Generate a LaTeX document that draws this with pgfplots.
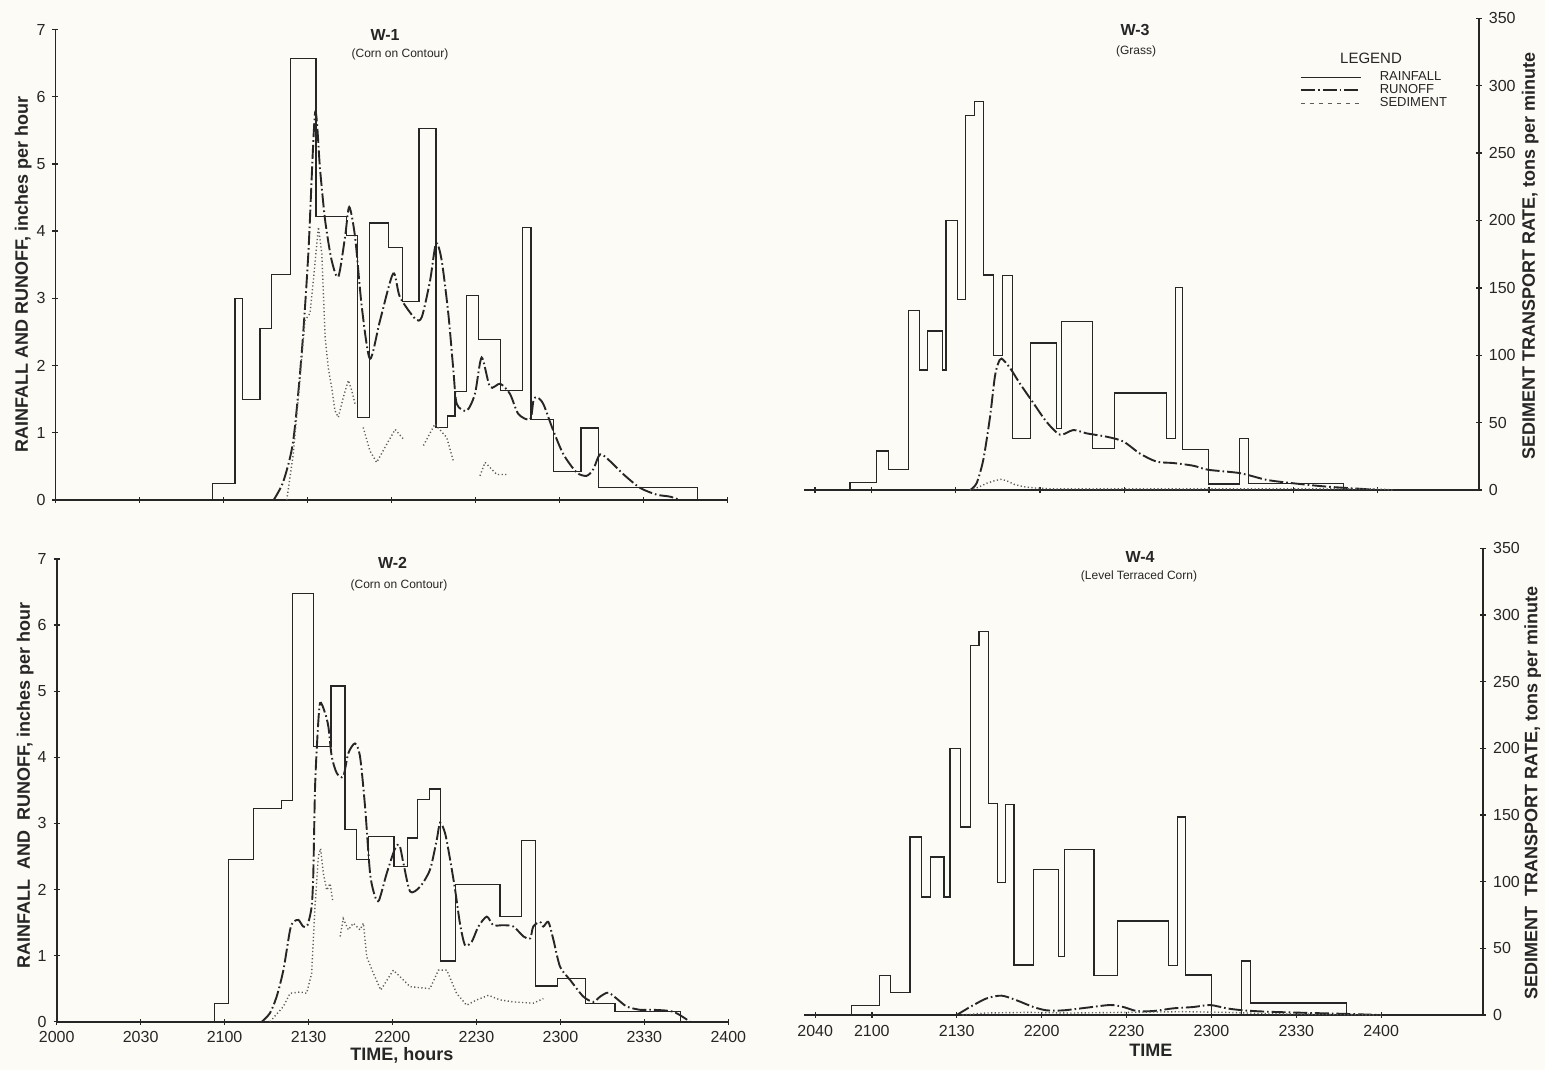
\documentclass[border=0pt]{standalone}
\usepackage{pgfplots}
\pgfplotsset{compat=1.18}
\usepackage{fontspec}
\setmainfont{Liberation Sans}
\setsansfont{Liberation Sans}

\definecolor{ink}{HTML}{262626}
\definecolor{paper}{HTML}{FCFBF6}

\newcommand{\labfont}{\bfseries\fontsize{9}{10}\selectfont}

\tikzset{
  rainline/.style={ink, line width=0.6pt},
  runline/.style={ink, line width=0.95pt, dash pattern=on 7pt off 1.5pt on 0.8pt off 1.5pt},
  sedline/.style={ink!75, line width=0.7pt, dash pattern=on 0.6pt off 1.2pt},
}

\pgfplotsset{
  panel/.style={
    scale only axis,
    xmin=0, xmax=240, ymin=0, ymax=7,
    tick style={ink, line width=0.7pt},
    tick align=inside,
    major tick length=3pt,
    tick label style={font=\fontsize{8}{9}\selectfont, text=ink},
    /pgf/number format/assume math mode=true,
    ytick={0,...,7},
  },
  noarrows/.style={
    axis line style={-, ink, line width=0.9pt},
    every outer x axis line/.append style={-},
    every outer y axis line/.append style={-},
    every inner x axis line/.append style={-},
    every inner y axis line/.append style={-},
  },
  leftpanel/.style={panel, axis x line=bottom, axis y line=left, noarrows,
    xtick={0,30,...,240}, yticklabels={0,1,2,3,4,5,6,7}},
  rightpanel/.style={panel, axis x line=bottom, axis y line=right, noarrows,
    xmin=36, xmax=276, xtick={40,60,90,120,150,180,210,240},
    yticklabels={0,50,100,150,200,250,300,350}},
}

\begin{document}
\begin{tikzpicture}
\fill[paper] (0pt,0pt) rectangle (772.5pt,-535pt);
\path[use as bounding box] (0pt,0pt) rectangle (772.5pt,-535pt);

% ---------------- W-1 (top left) ----------------
\begin{axis}[leftpanel, at={(27.75pt,-250pt)}, anchor=south west,
  width=336pt, height=235.25pt, xticklabels={},
  ylabel={RAINFALL AND RUNOFF, inches per hour},
  every axis y label/.style={at={(axis description cs:-0.048,0.48)}, rotate=90, anchor=center, font=\labfont, text=ink}]
\addplot[rainline, const plot, forget plot] coordinates {
(56.1,0) (56.1,0.25) (64.1,3.0) (66.9,1.5) (73.0,2.55) (77.2,3.35) (83.8,6.57) (93.0,4.22)
(104.0,3.93) (107.8,1.23) (112.1,4.12) (118.9,3.76) (123.9,2.95) (129.8,5.53) (135.9,1.08)
(139.9,1.25) (142.7,1.62) (146.9,3.04) (151.0,2.39) (158.8,1.63) (166.7,4.05) (169.8,1.2)
(177.8,0.43) (187.7,1.07) (193.9,0.19) (229.2,0) };
\addplot[runline, smooth, tension=0.45, forget plot] coordinates {
(77.9,0) (81.4,0.28) (84.9,0.88) (87.9,2.17) (90.3,3.67) (92.7,5.76) (94.5,4.91) (96.3,4.16)
(98.6,3.57) (101.0,3.32) (103.4,3.91) (104.9,4.36) (107.0,3.91) (109.4,2.87) (112.3,2.10)
(115.9,2.67) (120.6,3.37) (123.0,3.02) (128.4,2.70) (130.8,2.72) (133.8,3.27) (135.9,3.82)
(137.9,3.57) (140.3,2.77) (142.1,1.93) (143.3,1.43) (146.9,1.33) (149.8,1.58) (152.2,2.12)
(155.2,1.68) (158.8,1.73) (162.3,1.58) (165.3,1.28) (169.5,1.20) (170.7,1.48) (171.9,1.53)
(174.2,1.43) (177.8,1.03) (181.4,0.68) (186.1,0.41) (189.7,0.36) (192.1,0.46) (194.5,0.68)
(198.0,0.58) (202.9,0.38) (208.8,0.18) (214.7,0.08) (219.5,0.05) (223.0,0) };
\addplot[sedline, y filter/.expression={y/50}, forget plot] coordinates {
(82.6,0) (84.9,34) (87.3,89) (89.1,133.5) (90.9,139) (92.1,163.5) (93.9,203) (95.1,183.5)
(96.3,121) (97.4,98.5) (98.6,84) (99.8,66.5) (101.0,61.5) (102.8,76.5) (104.6,89) (105.8,81.5) (107.0,71.5) };
\addplot[sedline, y filter/.expression={y/50}, forget plot] coordinates {
(109.9,54) (112.3,36.5) (114.7,28) (118.3,41.5) (121.3,52.5) (124.2,45.5) };
\addplot[sedline, y filter/.expression={y/50}, forget plot] coordinates {
(131.4,40.5) (135.5,56.5) (139.7,46.5) (142.1,29) };
\addplot[sedline, y filter/.expression={y/50}, forget plot] coordinates {
(151.6,18) (153.4,28) (157.6,19) (161.7,19) };
\end{axis}

% ---------------- W-2 (bottom left) ----------------
\begin{axis}[leftpanel, at={(28.35pt,-510.85pt)}, anchor=south west,
  width=335.8pt, height=231.35pt,
  xticklabels={2000,2030,2100,2130,2200,2230,2300,2330,2400},
  ylabel={RAINFALL\ \ AND\ \ RUNOFF, inches per hour},
  every axis y label/.style={at={(axis description cs:-0.047,0.51)}, rotate=90, anchor=center, font=\labfont, text=ink},
  xlabel={TIME, hours},
  every axis x label/.style={at={(axis description cs:0.514,-0.072)}, anchor=center, font=\labfont, text=ink}]
\addplot[rainline, const plot, forget plot] coordinates {
(56.3,0) (56.3,0.28) (61.5,2.45) (70.3,3.22) (80.2,3.35) (84.3,6.48) (91.7,4.16) (98.0,5.08)
(103.0,2.91) (107.0,2.46) (111.4,2.80) (120.5,2.35) (125.3,2.78) (129.0,3.36) (133.2,3.52)
(137.2,0.92) (142.5,2.08) (158.4,1.59) (166.2,2.74) (171.2,0.54) (178.9,0.65) (189.1,0.28)
(199.5,0.15) (222.8,0) };
\addplot[runline, smooth, tension=0.45, forget plot] coordinates {
(73.3,0) (76.2,0.13) (78.6,0.38) (81.0,0.78) (83.4,1.39) (84.6,1.51) (86.4,1.54) (88.1,1.44)
(89.6,1.46) (91.1,1.74) (91.7,2.24) (92.3,3.51) (93.1,4.26) (94.1,4.82) (95.9,4.67) (97.1,4.46)
(98.3,4.01) (100.1,3.76) (102.4,3.71) (104.2,4.06) (106.6,4.21) (108.4,4.01) (110.2,3.25)
(112.0,2.24) (113.8,1.89) (115.2,1.84) (117.9,2.24) (120.9,2.62) (122.5,2.67) (123.9,2.40)
(126.3,1.97) (129.8,2.04) (133.4,2.30) (135.8,2.75) (137.0,3.01) (138.8,2.85) (140.6,2.45)
(142.4,1.99) (144.1,1.49) (145.9,1.16) (148.3,1.21) (150.7,1.44) (153.7,1.59) (156.0,1.46)
(159.6,1.46) (163.2,1.44) (166.8,1.29) (169.2,1.26) (170.3,1.44) (172.7,1.51) (173.9,1.44)
(175.7,1.51) (177.5,1.24) (179.9,0.83) (183.5,0.63) (188.2,0.38) (191.8,0.30) (194.2,0.38)
(197.1,0.44) (200.1,0.35) (203.7,0.23) (208.5,0.18) (213.2,0.18) (220.4,0.15) (226.3,0) };
\addplot[sedline, y filter/.expression={y/50}, forget plot] coordinates {
(76.2,0) (81.0,11.5) (83.4,21.5) (87.0,22.5) (89.3,21.5) (91.1,36.5) (92.3,87) (93.5,125)
(94.3,131) (95.3,112) (96.5,99.5) (97.7,104.5) (98.6,92) };
\addplot[sedline, y filter/.expression={y/50}, forget plot] coordinates {
(101.3,64.5) (102.4,78) (104.2,69.5) (106.0,74.5) (108.4,69.5) (109.6,74.5) (110.8,49)
(113.2,36.5) (115.8,24) (120.3,39) (126.3,26.5) (133.4,25) (136.4,39) (139.4,39) (142.9,21.5)
(146.5,12.5) (150.1,16.5) (154.3,20) (158.4,16.5) (163.2,15) (170.3,14) (173.9,17.5) };
\end{axis}

% ---------------- W-3 (top right) ----------------
\begin{axis}[rightpanel, at={(401.95pt,-245pt)}, anchor=south west,
  width=337.45pt, height=235.9pt, xticklabels={},
  ylabel={SEDIMENT TRANSPORT RATE, tons per minute},
  every axis y label/.style={at={(axis description cs:1.076,0.496)}, rotate=90, anchor=center, font=\labfont, text=ink},
  legend style={at={(axis description cs:0.7255,0.898)}, anchor=north west, draw=none, fill=none,
    font=\fontsize{6.5}{7}\selectfont, text=ink, row sep=0pt, column sep=0pt,
    nodes={inner sep=0pt, text height=5pt, text depth=1.5pt}, cells={anchor=west}},
  legend image code/.code={\draw[#1] (0pt,0pt) -- (30pt,0pt); \path (39pt,0pt);}]
\addplot[rainline, const plot, forget plot] coordinates {
(52.4,0) (52.4,0.11) (61.9,0.58) (66.0,0.31) (73.1,2.66) (77.0,1.78) (79.9,2.36) (85.2,1.78)
(86.5,4.0) (90.5,2.83) (93.5,5.56) (96.8,5.76) (100.0,3.19) (103.3,2.0) (106.7,3.18) (110.1,0.77)
(116.6,2.18) (125.9,0.91) (127.7,2.50) (138.7,0.62) (146.4,1.44) (165.0,0.77) (168.2,3.0)
(170.7,0.6) (179.8,0.09) (190.8,0.76) (194.0,0.1) (227.8,0) };
\addplot[runline, smooth, tension=0.45, forget plot] coordinates {
(95.1,0) (97.4,0.1) (99.8,0.45) (102.2,1.09) (103.9,1.68) (105.1,1.88) (106.3,1.95) (109.3,1.81)
(112.8,1.58) (117.6,1.29) (122.3,1.01) (127.1,0.82) (131.8,0.89) (136.6,0.84) (143.7,0.79)
(149.6,0.72) (155.5,0.54) (161.5,0.42) (167.4,0.40) (174.5,0.36) (179.8,0.30) (191.1,0.25)
(200.6,0.15) (210.0,0.1) (221.9,0.05) (234.9,0.015) (239.7,0) };
\addplot[sedline, y filter/.expression={y/50}, forget plot] coordinates {
(95,0) (98,2) (101,5) (104,7) (106.3,8) (108.5,6.5) (111,4) (114,2.5) (118,1.5) (125,0.8)
(240,0.8) (246,0) };
\addlegendimage{rainline}\addlegendentry{RAINFALL}
\addlegendimage{runline}\addlegendentry{RUNOFF}
\addlegendimage{sedline, dash pattern=on 2pt off 2.5pt}\addlegendentry{SEDIMENT}
\end{axis}

% ---------------- W-4 (bottom right) ----------------
\begin{axis}[rightpanel, at={(401.95pt,-507.5pt)}, anchor=south west,
  width=339.6pt, height=233.35pt,
  xticklabels={2040,2100,2130,2200,2230,2300,2330,2400},
  ylabel={SEDIMENT\ \ TRANSPORT RATE, tons per minute},
  every axis y label/.style={at={(axis description cs:1.073,0.476)}, rotate=90, anchor=center, font=\labfont, text=ink},
  xlabel={TIME},
  every axis x label/.style={at={(axis description cs:0.511,-0.075)}, anchor=center, font=\labfont, text=ink}]
\addplot[rainline, const plot, forget plot] coordinates {
(52.9,0) (52.9,0.14) (62.7,0.59) (66.7,0.34) (73.5,2.67) (77.6,1.77) (80.6,2.37) (85.5,1.77)
(87.6,4.0) (91.2,2.82) (94.9,5.54) (97.9,5.75) (101.2,3.17) (104.3,1.99) (107.3,3.16) (110.2,0.75)
(117.1,2.18) (125.9,0.88) (128.0,2.48) (138.5,0.59) (146.9,1.41) (164.8,0.74) (168.0,2.97)
(170.7,0.6) (179.9,0) (190.7,0.81) (193.9,0.18) (227.8,0) };
\addplot[runline, smooth, tension=0.45, forget plot] coordinates {
(90.0,0) (94.7,0.12) (100.6,0.25) (105.9,0.29) (111.2,0.22) (117.1,0.12) (121.8,0.07)
(127.7,0.07) (135.9,0.11) (144.2,0.15) (148.9,0.12) (153.6,0.06) (159.5,0.06) (166.5,0.10)
(173.6,0.12) (179.5,0.15) (185.4,0.10) (191.3,0.07) (199.5,0.05) (211.3,0.035) (229.0,0.015) (239.6,0) };
\addplot[sedline, y filter/.expression={y/50}, forget plot] coordinates {
(92,0) (100,1.5) (115,2) (130,1.5) (150,2) (170,2.5) (185,2) (200,1) (220,0.5) (240,0) };
\end{axis}

% ---------------- titles ----------------
\begin{scope}[every node/.style={text=ink}]
\node[font=\bfseries\fontsize{8}{9}\selectfont] at (192.5pt,-17.5pt) {W-1};
\node[font=\fontsize{6}{7}\selectfont] at (200pt,-27pt) {(Corn on Contour)};
\node[font=\bfseries\fontsize{8}{9}\selectfont] at (567.5pt,-15pt) {W-3};
\node[font=\fontsize{6}{7}\selectfont] at (568pt,-25.85pt) {(Grass)};
\node[font=\bfseries\fontsize{8}{9}\selectfont] at (196.25pt,-281.65pt) {W-2};
\node[font=\fontsize{6}{7}\selectfont] at (199.5pt,-292.5pt) {(Corn on Contour)};
\node[font=\bfseries\fontsize{8}{9}\selectfont] at (570pt,-278.35pt) {W-4};
\node[font=\fontsize{6}{7}\selectfont] at (569.5pt,-288pt) {(Level Terraced Corn)};
\node[font=\fontsize{7.5}{8}\selectfont] at (685.5pt,-29pt) {LEGEND};
\end{scope}
\end{tikzpicture}
\end{document}
